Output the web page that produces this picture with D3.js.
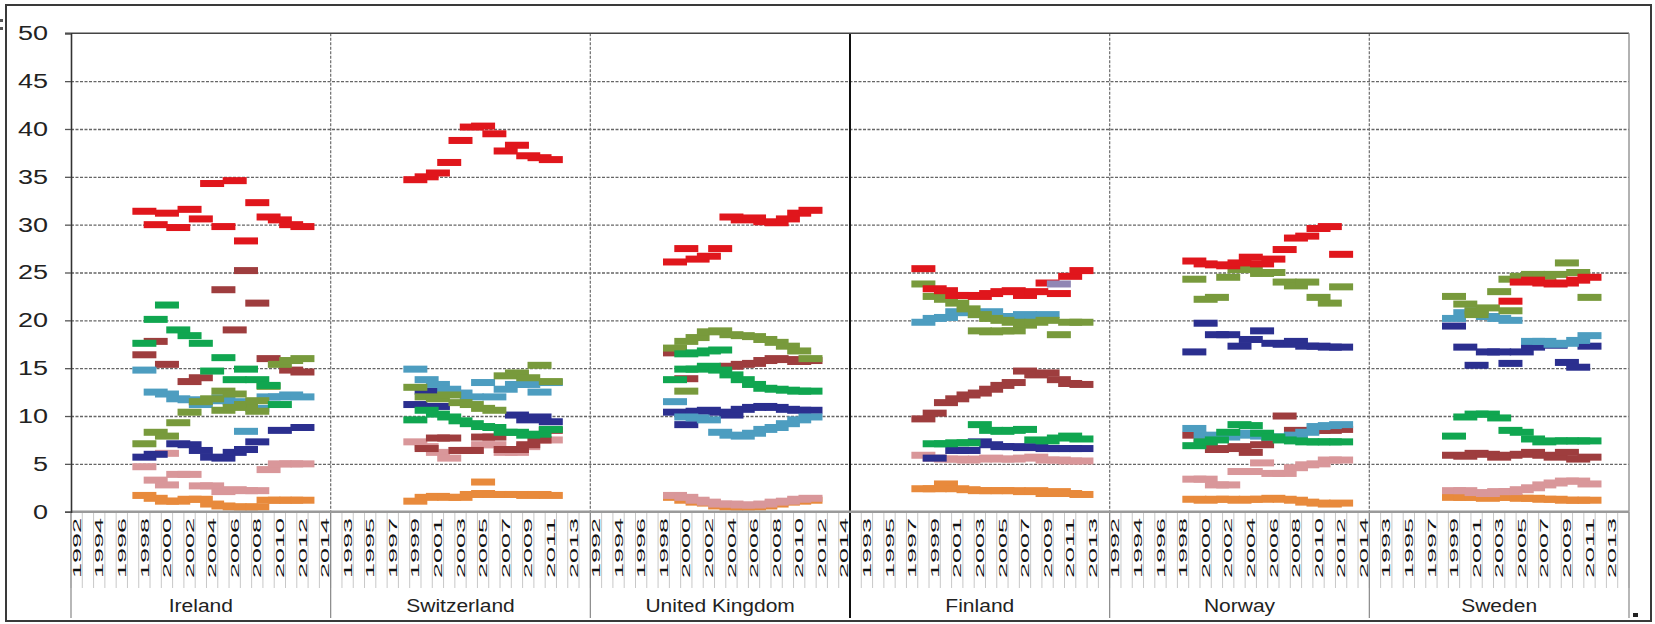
<!DOCTYPE html>
<html>
<head>
<meta charset="utf-8">
<script src="https://cdn.jsdelivr.net/npm/d3@7"></script>
<style>
  body { margin: 0; background: #fff; }
  text { font-family: "Liberation Sans", Arial, sans-serif; fill: #222; }
</style>
</head>
<body>
<svg id="chart" width="1655" height="624"></svg>
<script>
const _ = null;

// categories
const countries = ["Ireland", "Switzerland", "United Kingdom", "Finland", "Norway", "Sweden"];
const years = d3.range(1992, 2015);
const yTicks = [0, 5, 10, 15, 20, 25, 30, 35, 40, 45, 50];

// ---- Ireland (1992 .. 2014)
const ieRed    = [_,_,_,_,_,_, 31.4,30.0,31.2,29.7,31.6,30.6,34.3,29.8,34.6,28.3,32.3,30.8,30.5,30.0,29.8, _,_];
const ieBrown1 = [_,_,_,_,_,_, _,_,_,_,_,_,_,23.2,19.0,25.2,21.8,_,_,_,_, _,_];
const ieBrown2 = [_,_,_,_,_,_, 16.4,17.8,15.4,_,13.6,14.0,_,_,_,_,_,16.0,_,14.8,14.6, _,_];
const ieGreen  = [_,_,_,_,_,_, 17.6,20.1,21.6,19.0,18.4,17.6,14.7,16.1,13.8,14.9,13.8,13.2,11.2,_,_, _,_];
const ieTeal   = [_,_,_,_,_,_, 14.8,12.5,12.3,11.8,11.7,11.2,11.6,11.9,11.5,8.4,10.8,12.0,12.0,12.2,12.0, _,_];
const ieOlive  = [_,_,_,_,_,_, 7.1,8.3,7.9,9.3,10.4,11.5,11.8,12.6,12.3,11.2,11.6,13.1,15.4,15.8,16.0, _,_];
const ieOlive2 = [_,_,_,_,_,_, _,_,_,_,_,_,_,10.6,10.9,_,10.5,_,_,_,_, _,_];
const ieNavy   = [_,_,_,_,_,_, 5.7,6.0,_,7.1,7.0,6.4,5.7,5.6,6.2,6.5,7.3,_,8.5,_,8.8, _,_];
const iePink   = [_,_,_,_,_,_, 4.7,3.3,2.8,3.9,3.9,2.7,2.7,2.1,2.3,2.2,2.2,4.4,5.0,5.0,5.0, _,_];
const iePink2  = [_,_,_,_,_,_, _,_,6.1,_,_,_,_,_,_,_,_,_,_,_,_, _,_];
const ieOrange = [_,_,_,_,_,_, 1.7,1.4,1.1,1.1,1.3,1.3,0.8,0.6,0.5,0.5,0.5,1.2,1.2,1.2,1.2, _,_];

// ---- Switzerland
const chRed     = [_,_,_,_,_,_,_, 34.7,35.0,35.4,36.5,38.8,40.2,40.3,39.5,37.7,38.3,37.2,37.0,36.8, _,_,_];
const chOlive   = [_,_,_,_,_,_,_, 13.0,12.0,11.8,12.2,11.4,11.2,10.8,10.6,14.2,14.5,14.0,15.3,13.6, _,_,_];
const chTeal    = [_,_,_,_,_,_,_, 14.9,13.8,13.3,12.8,12.4,12.0,13.5,12.0,12.8,13.3,13.3,12.5,13.5, _,_,_];
const chNavy    = [_,_,_,_,_,_,_, 11.2,12.6,11.0,_,_,_,_,_,_,10.1,9.6,9.9,9.4, _,_,_];
const chGreen   = [_,_,_,_,_,_,_, 9.6,10.6,10.2,9.9,9.5,9.2,8.9,8.8,8.3,8.3,8.0,8.1,8.6, _,_,_];
const chBrown   = [_,_,_,_,_,_,_, _,6.6,7.7,7.7,6.4,6.4,7.8,7.8,6.5,6.5,7.0,7.5,8.5, _,_,_];
const chPink    = [_,_,_,_,_,_,_, 7.3,6.8,6.2,5.6,6.4,6.4,7.0,7.0,6.2,6.2,6.8,7.5,7.5, _,_,_];
const chOrange  = [_,_,_,_,_,_,_, 1.1,1.5,1.6,1.5,1.5,1.8,1.9,1.8,1.8,1.8,1.7,1.8,1.7, _,_,_];
const chOrange2 = [_,_,_,_,_,_,_, _,_,_,_,_,_,3.1,_,_,_,_,_,_, _,_,_];

// ---- United Kingdom
const ukRed    = [_,_,_,_,_,_,_, 26.1,27.5,26.4,26.7,27.5,30.8,30.5,30.7,30.3,30.2,30.6,31.2,31.5, _,_,_];
const ukOlive  = [_,_,_,_,_,_,_, 17.1,17.8,18.2,18.8,18.9,18.5,18.4,18.3,18.0,17.7,17.3,16.8,16.0, _,_,_];
const ukOlive2 = [_,_,_,_,_,_,_, _,12.6,_,_,_,_,_,_,_,_,_,_,_, _,_,_];
const ukGreen  = [_,_,_,_,_,_,_, _,16.5,16.6,16.8,16.9,_,_,_,_,_,_,_,_, _,_,_];
const ukGreen2 = [_,_,_,_,_,_,_, 13.8,14.9,14.9,15.2,14.8,14.3,13.8,13.3,12.9,12.8,12.7,12.6,12.6, _,_,_];
const ukBrown  = [_,_,_,_,_,_,_, 16.6,13.9,_,15.0,15.1,15.2,15.4,15.5,15.8,16.0,15.9,15.7,15.8, _,_,_];
const ukTeal   = [_,_,_,_,_,_,_, 11.5,9.9,9.8,9.6,8.3,8.0,7.9,8.2,8.6,8.8,9.2,9.6,9.9, _,_,_];
const ukNavy   = [_,_,_,_,_,_,_, 10.4,9.1,10.5,10.6,10.4,10.1,10.7,10.9,11.0,10.9,10.7,10.6,10.6, _,_,_];
const ukPink   = [_,_,_,_,_,_,_, 1.7,1.5,1.2,1.0,0.8,0.8,0.7,0.7,0.8,1.0,1.1,1.3,1.4, _,_,_];
const ukOrange = [_,_,_,_,_,_,_, 1.5,1.2,1.0,0.9,0.6,0.5,0.5,0.5,0.6,0.8,1.0,1.1,1.2, _,_,_];

// ---- Finland
const fiRed    = [_,_,_,_,_,_, 25.4,23.3,23.1,22.6,22.6,22.5,22.8,23.0,23.1,22.6,23.0,23.9,22.8,24.6,25.2, _,_];
const fiPurple = [_,_,_,_,_,_, _,_,_,_,_,_,_,_,_,_,_,_,23.8,_,_, _,_];
const fiOlive  = [_,_,_,_,_,_, 23.8,22.5,22.2,21.8,21.2,20.6,20.2,20.0,19.8,19.5,19.8,20.0,18.5,19.8,19.8, _,_];
const fiOlive2 = [_,_,_,_,_,_, _,_,_,_,_,18.9,18.8,18.9,18.9,_,_,_,_,_,_, _,_];
const fiTeal   = [_,_,_,_,_,_, 19.8,20.2,20.3,20.9,20.8,20.6,20.9,20.4,20.1,20.6,20.4,20.6,_,_,_, _,_];
const fiBrown  = [_,_,_,_,_,_, 9.7,10.3,11.4,11.8,12.2,12.4,12.8,13.2,13.5,14.7,14.3,14.5,13.8,13.4,13.3, _,_];
const fiGreen  = [_,_,_,_,_,_, _,7.1,7.1,7.2,7.2,9.1,8.5,8.4,8.5,8.6,7.5,7.4,7.7,7.9,7.6, _,_];
const fiNavy   = [_,_,_,_,_,_, _,5.6,_,6.4,6.4,7.3,7.0,6.8,6.8,6.7,6.8,6.6,6.6,6.6,6.6, _,_];
const fiPink   = [_,_,_,_,_,_, 5.9,5.6,5.5,5.5,5.4,5.5,5.6,5.5,5.5,5.6,5.7,5.4,5.4,5.3,5.3, _,_];
const fiOrange = [_,_,_,_,_,_, 2.4,2.4,2.9,2.4,2.3,2.2,2.2,2.2,2.2,2.1,2.2,1.9,2.1,1.9,1.8, _,_];

// ---- Norway
const noRed    = [_,_,_,_,_,_,_, 26.2,25.9,25.8,25.7,26.0,26.6,25.9,26.4,27.4,28.6,28.8,29.6,29.8,26.9, _,_];
const noOlive  = [_,_,_,_,_,_,_, 24.3,22.2,22.4,24.5,25.3,25.5,24.9,25.0,24.0,23.6,24.0,22.4,21.8,23.5, _,_];
const noNavy   = [_,_,_,_,_,_,_, 16.7,19.7,18.5,18.5,17.3,18.0,18.9,17.6,17.5,17.8,17.3,17.3,17.2,17.2, _,_];
const noTeal   = [_,_,_,_,_,_,_, 8.7,8.0,7.6,7.8,8.0,8.2,7.9,7.8,7.8,8.0,8.3,8.9,9.0,9.1, _,_];
const noGreen  = [_,_,_,_,_,_,_, 6.9,7.3,7.5,8.3,9.1,9.0,8.2,7.8,7.5,7.4,7.3,7.3,7.3,7.3, _,_];
const noBrown  = [_,_,_,_,_,_,_, 8.0,7.2,6.5,6.6,6.8,6.2,7.0,7.6,10.0,8.5,8.4,8.5,8.5,8.6, _,_];
const noPink   = [_,_,_,_,_,_,_, 3.4,3.4,2.8,2.8,4.2,4.2,5.1,4.0,4.0,4.6,4.9,5.0,5.4,5.4, _,_];
const noOrange = [_,_,_,_,_,_,_, 1.3,1.2,1.3,1.3,1.2,1.3,1.3,1.4,1.3,1.2,1.0,0.9,0.8,0.9, _,_];

// ---- Sweden
const seRed    = [_,_,_,_,_,_,_, _,_,_,_,_,22.0,24.0,24.2,23.9,23.8,23.9,24.2,24.5, _,_,_];
const seOlive  = [_,_,_,_,_,_,_, 22.5,21.7,21.0,21.3,23.0,24.3,24.6,24.8,24.6,24.8,26.0,25.0,22.4, _,_,_];
const seOlive2 = [_,_,_,_,_,_,_, _,_,20.6,_,_,21.0,_,_,_,_,_,_,_, _,_,_];
const seTeal   = [_,_,_,_,_,_,_, 20.2,20.8,21.0,20.4,20.2,20.0,_,17.8,17.8,17.5,17.6,17.9,18.4, _,_,_];
const seNavy   = [_,_,_,_,_,_,_, 19.4,17.2,15.3,16.7,16.7,15.5,16.7,17.2,17.6,17.4,15.6,15.1,17.3, _,_,_];
const seGreen  = [_,_,_,_,_,_,_, 7.9,9.9,10.2,10.2,9.8,8.5,8.3,7.6,7.3,7.4,7.4,7.4,7.4, _,_,_];
const seBrown  = [_,_,_,_,_,_,_, 5.9,5.8,6.1,6.0,5.7,5.9,6.0,6.2,5.9,5.7,6.2,5.5,5.7, _,_,_];
const sePink   = [_,_,_,_,_,_,_, 2.2,2.2,2.0,1.9,2.1,2.1,2.3,2.5,2.8,3.0,3.2,3.2,2.9, _,_,_];
const seOrange = [_,_,_,_,_,_,_, 1.5,1.5,1.5,1.4,1.5,1.5,1.4,1.4,1.3,1.3,1.2,1.2,1.2, _,_,_];

const colors = {
  orange: "#e88a3c", pink: "#d9979a", brown: "#9e3d3e", navy: "#2b2f8f",
  teal: "#4d9dc0", olive: "#789a3c", green: "#10a650", red: "#e0161c", purple: "#9086b4"
};

// drawing order (later on top)
const series = [
  ["Ireland", "orange", ieOrange], ["Ireland", "pink", iePink], ["Ireland", "pink", iePink2],
  ["Ireland", "brown", ieBrown1], ["Ireland", "brown", ieBrown2], ["Ireland", "navy", ieNavy],
  ["Ireland", "teal", ieTeal], ["Ireland", "olive", ieOlive], ["Ireland", "olive", ieOlive2],
  ["Ireland", "green", ieGreen], ["Ireland", "red", ieRed],
  ["Switzerland", "orange", chOrange], ["Switzerland", "orange", chOrange2], ["Switzerland", "pink", chPink],
  ["Switzerland", "brown", chBrown], ["Switzerland", "navy", chNavy], ["Switzerland", "teal", chTeal],
  ["Switzerland", "olive", chOlive], ["Switzerland", "green", chGreen], ["Switzerland", "red", chRed],
  ["United Kingdom", "orange", ukOrange], ["United Kingdom", "pink", ukPink], ["United Kingdom", "brown", ukBrown],
  ["United Kingdom", "navy", ukNavy], ["United Kingdom", "teal", ukTeal], ["United Kingdom", "olive", ukOlive],
  ["United Kingdom", "olive", ukOlive2], ["United Kingdom", "green", ukGreen], ["United Kingdom", "green", ukGreen2],
  ["United Kingdom", "red", ukRed],
  ["Finland", "orange", fiOrange], ["Finland", "pink", fiPink], ["Finland", "brown", fiBrown],
  ["Finland", "navy", fiNavy], ["Finland", "teal", fiTeal], ["Finland", "olive", fiOlive],
  ["Finland", "olive", fiOlive2], ["Finland", "green", fiGreen], ["Finland", "red", fiRed],
  ["Finland", "purple", fiPurple],
  ["Norway", "orange", noOrange], ["Norway", "pink", noPink], ["Norway", "brown", noBrown],
  ["Norway", "navy", noNavy], ["Norway", "teal", noTeal], ["Norway", "olive", noOlive],
  ["Norway", "green", noGreen], ["Norway", "red", noRed],
  ["Sweden", "orange", seOrange], ["Sweden", "pink", sePink], ["Sweden", "brown", seBrown],
  ["Sweden", "navy", seNavy], ["Sweden", "teal", seTeal], ["Sweden", "olive", seOlive],
  ["Sweden", "olive", seOlive2], ["Sweden", "green", seGreen], ["Sweden", "red", seRed]
];

const plot = { left: 71, right: 1629, top: 33.3, bottom: 511.7 };
const dashW = 24, dashH = 7;

const svg = d3.select("#chart");
const cats = countries.flatMap(c => years.map(yr => c + "|" + yr));
const x = d3.scaleBand().domain(cats).range([plot.left, plot.right]);
const y = d3.scaleLinear().domain([0, 50]).range([plot.bottom, plot.top]);
const bw = x.bandwidth();
const panelW = bw * years.length;

function stretchTo(sel, len) {
  sel.attr("textLength", len).attr("lengthAdjust", "spacingAndGlyphs");
}
function stretchBy(sel, k) {
  sel.each(function () {
    const n = this.getComputedTextLength();
    this.setAttribute("textLength", n * k);
    this.setAttribute("lengthAdjust", "spacingAndGlyphs");
  });
}

// outer frame
svg.append("rect").attr("x", 6).attr("y", 5).attr("width", 1645).attr("height", 616)
  .attr("fill", "#fff").attr("stroke", "#3a3a3a").attr("stroke-width", 2);
// clipped remains of a neighbouring object at the far left, and the corner handle
svg.append("rect").attr("x", 0).attr("y", 19).attr("width", 3).attr("height", 3).attr("fill", "#555");
svg.append("rect").attr("x", 0).attr("y", 27).attr("width", 3).attr("height", 3).attr("fill", "#555");
svg.append("rect").attr("x", 1633).attr("y", 613).attr("width", 5).attr("height", 4).attr("fill", "#222");

// horizontal gridlines
const grid = svg.append("g").attr("transform", `translate(${plot.left},0)`)
  .call(d3.axisLeft(y).tickValues(yTicks.filter(t => t > 0 && t < 50)).tickSize(-(plot.right - plot.left)).tickFormat(""));
grid.select(".domain").remove();
grid.selectAll(".tick line").attr("stroke", "#666").attr("stroke-width", 1.3).attr("stroke-dasharray", "3,1.5");

// vertical panel separators inside the plot
const seps = d3.range(1, countries.length).map(i => plot.left + i * panelW);
svg.append("g").selectAll("line").data(seps).join("line")
  .attr("x1", d => d).attr("x2", d => d).attr("y1", plot.top).attr("y2", plot.bottom)
  .attr("stroke", (d, i) => i === 2 ? "#111" : "#777")
  .attr("stroke-width", (d, i) => i === 2 ? 2 : 1.3)
  .attr("stroke-dasharray", (d, i) => i === 2 ? null : "3,1.5");

// plot border (top + right)
svg.append("line").attr("x1", plot.left - 6).attr("x2", plot.right).attr("y1", plot.top).attr("y2", plot.top)
  .attr("stroke", "#444").attr("stroke-width", 1.6);
svg.append("line").attr("x1", plot.right).attr("x2", plot.right).attr("y1", plot.top).attr("y2", plot.bottom)
  .attr("stroke", "#999").attr("stroke-width", 1.5);

// category tick lines under the axis
svg.append("g").selectAll("line").data(d3.range(cats.length + 1)).join("line")
  .attr("x1", i => plot.left + i * bw).attr("x2", i => plot.left + i * bw)
  .attr("y1", plot.bottom).attr("y2", 588)
  .attr("stroke", "#c8c8c8").attr("stroke-width", 1);

// group separators under the axis
svg.append("g").selectAll("line").data([plot.left, ...seps, plot.right]).join("line")
  .attr("x1", d => d).attr("x2", d => d).attr("y1", plot.bottom).attr("y2", 618)
  .attr("stroke", (d, i) => i === 3 ? "#111" : "#888")
  .attr("stroke-width", (d, i) => i === 3 ? 2 : 1.2);

// markers (dash)
svg.append("g").selectAll("g").data(series).join("g")
  .attr("fill", d => colors[d[1]])
  .selectAll("rect")
  .data(d => d[2].map((v, i) => ({ c: d[0], yr: years[i], v })).filter(p => p.v !== null))
  .join("rect")
  .attr("x", p => x(p.c + "|" + p.yr) + bw / 2 - dashW / 2)
  .attr("y", p => y(p.v) - dashH / 2)
  .attr("width", dashW).attr("height", dashH);

// x axis baseline
svg.append("line").attr("x1", plot.left).attr("x2", plot.right).attr("y1", plot.bottom).attr("y2", plot.bottom)
  .attr("stroke", "#9a9a9a").attr("stroke-width", 2.5);

// y axis with labels
const ya = svg.append("g").attr("transform", `translate(${plot.left},0)`)
  .call(d3.axisLeft(y).tickValues(yTicks).tickSize(6).tickPadding(17));
ya.select(".domain").attr("stroke", "#333").attr("stroke-width", 1.6);
ya.selectAll(".tick line").attr("stroke", "#555").attr("stroke-width", 1.3);
ya.selectAll(".tick text").attr("font-size", 20).attr("fill", "#222")
  .style("font-family", '"Liberation Sans", Arial, sans-serif')
  .each(function (d) { d3.select(this).call(stretchTo, String(d).length * 15); });

// year labels, every other category
const yearLabels = cats.map((c, i) => ({ c, i })).filter(d => d.i % 2 === 0);
svg.append("g").selectAll("text").data(yearLabels).join("text")
  .attr("transform", d => `translate(${x(d.c) + bw / 2},518) rotate(-90)`)
  .attr("text-anchor", "end").attr("dy", "0.36em")
  .attr("font-size", 11.5).style("fill", "#111")
  .text(d => d.c.split("|")[1])
  .call(stretchTo, 60);

// country labels
svg.append("g").selectAll("text").data(countries).join("text")
  .attr("x", (d, i) => plot.left + (i + 0.5) * panelW)
  .attr("y", 612)
  .attr("text-anchor", "middle")
  .attr("font-size", 17.5)
  .text(d => d)
  .call(stretchBy, 1.2);
</script>
</body>
</html>
